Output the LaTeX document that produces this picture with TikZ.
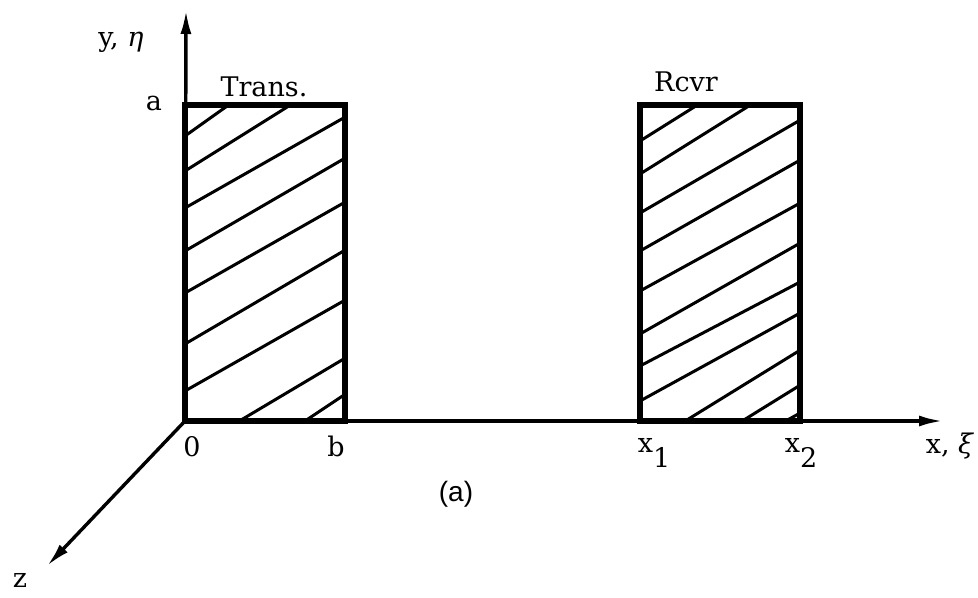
\documentclass[tikz,border=0pt]{standalone}
\usepackage{fontspec}
\setmainfont{DejaVu Serif}
\newfontfamily\capfont{Liberation Sans}
\usetikzlibrary{arrows.meta}
\begin{document}
\begin{tikzpicture}[x=0.5pt,y=-0.5pt,
  axis/.style={line width=1.7pt,-{Latex[length=12pt,width=5.5pt]}},
  frame/.style={line width=2.7pt,line join=miter},
  hatch/.style={line width=1.5pt},
  lbl/.style={inner sep=0pt,font=\fontsize{13.5}{15}\selectfont}]
\useasboundingbox (0,0) rectangle (978,598);
% axes
\coordinate (O) at (185,421);
\coordinate (Ytip) at (186,10);
\coordinate (Xtip) at (943,421);
\coordinate (Ztip) at (47,566);
\draw[axis] (O) -- (Ytip);
\draw[axis] (O) -- (Xtip);
\draw[axis] (O) -- (Ztip);
% hatching, transmitter
\begin{scope}
\clip (185,105) rectangle (345,421);
\draw[hatch] (185,136) -- (230,104);
\draw[hatch] (185,171) -- (292,104);
\draw[hatch] (185,208) -- (347,116);
\draw[hatch] (185,251) -- (347,157);
\draw[hatch] (185,293) -- (347,201);
\draw[hatch] (185,344) -- (347,249);
\draw[hatch] (185,391) -- (347,299);
\draw[hatch] (236,423) -- (347,357);
\draw[hatch] (302,423) -- (347,393);
\end{scope}
% hatching, receiver
\begin{scope}
\clip (640,105) rectangle (800,421);
\draw[hatch] (640,141) -- (699,104);
\draw[hatch] (640,174) -- (752,104);
\draw[hatch] (640,213) -- (802,119);
\draw[hatch] (640,251) -- (802,159);
\draw[hatch] (640,291) -- (802,202);
\draw[hatch] (640,334) -- (802,242);
\draw[hatch] (640,366) -- (802,281);
\draw[hatch] (640,401) -- (802,312);
\draw[hatch] (682,423) -- (802,349);
\draw[hatch] (739,423) -- (802,384);
\draw[hatch] (782,423) -- (802,412);
\end{scope}
% rectangles
\draw[frame] (185,105) rectangle (345,421);
\draw[frame] (640,105) rectangle (800,421);
% labels
\node[lbl] (ly) at (121,42) {y, \textit{η}};
\node[lbl] (la) at (154,103) {a};
\node[lbl] (ltr) at (264,87) {Trans.};
\node[lbl] (lrc) at (686,82) {Rcvr};
\node[lbl] (l0) at (192,447) {0};
\node[lbl] (lb) at (336,446) {b};
\node[lbl] (lx1) at (654,453) {x\raisebox{-1.1ex}{1}};
\node[lbl] (lx2) at (801,453) {x\raisebox{-1.1ex}{2}};
\node[lbl] (lx) at (950,446) {x, \textit{ξ}};
\node[lbl,font=\capfont\fontsize{14}{16}\selectfont] (lcap) at (456,494) {(a)};
\node[lbl] (lz) at (20,580) {z};
\end{tikzpicture}
\end{document}
